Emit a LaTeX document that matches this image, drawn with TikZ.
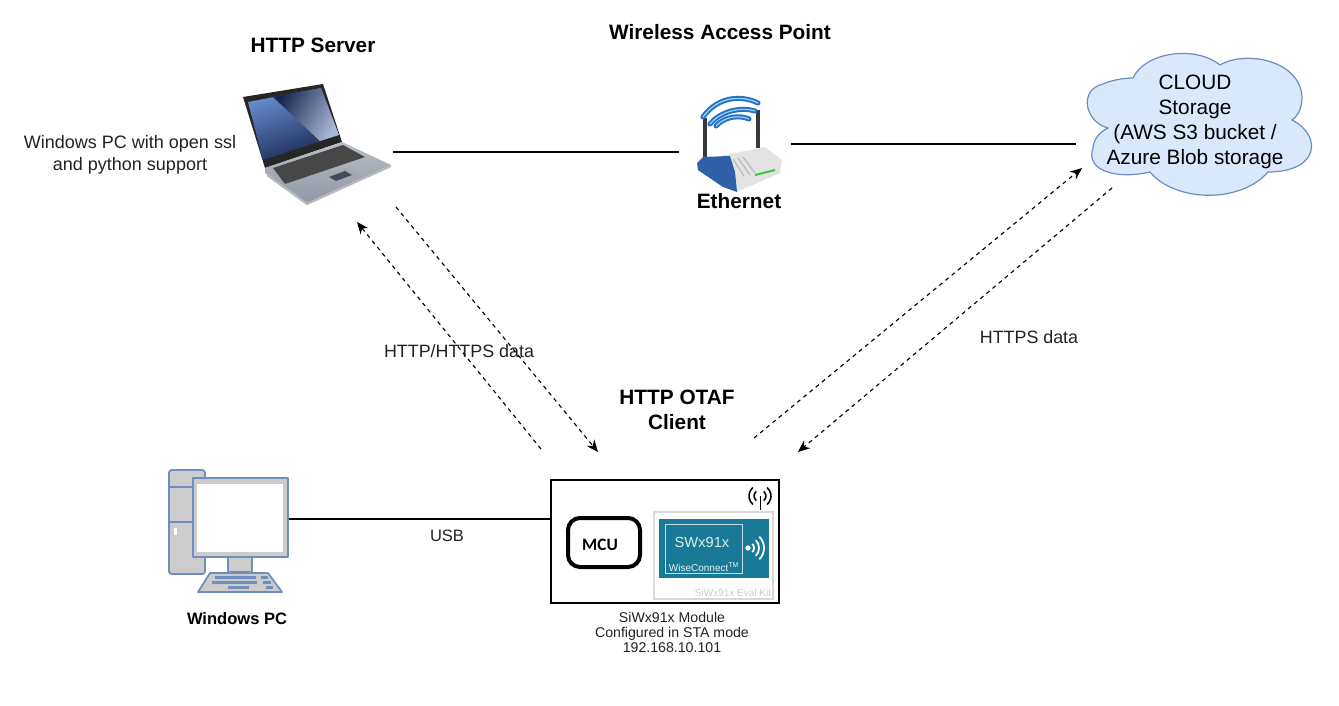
\documentclass[tikz,border=0pt]{standalone}
\usepackage{fontspec}
\setmainfont{Liberation Sans}
\newfontfamily\mcufont{Carlito}
\usetikzlibrary{arrows.meta,positioning,calc}
\definecolor{cloudfill}{HTML}{DAE8FC}
\definecolor{cloudline}{HTML}{6C8EBF}
\definecolor{pcline}{HTML}{6F8DBE}
\definecolor{pcgrey}{HTML}{CCCCCC}
\definecolor{teal}{HTML}{187A96}
\definecolor{wifiblue}{HTML}{2B6FC4}
\definecolor{labelgrey}{HTML}{222222}
\definecolor{screenlow}{HTML}{6A8FD4}
\definecolor{screendark}{HTML}{17264F}
\definecolor{screenhigh}{HTML}{A9B7D6}
\definecolor{routerblue}{HTML}{2F5FA8}
\definecolor{basehigh}{HTML}{B9BEC6}
\definecolor{baselow}{HTML}{8F98A6}
\tikzset{
  lbl/.style={font=\fontsize{13.4}{16}\selectfont, text=labelgrey, align=center, inner sep=0pt},
  headlbl/.style={font=\fontsize{15.6}{18.75}\selectfont\bfseries, text=black, align=center, inner sep=0pt},
  smalllbl/.style={font=\fontsize{10.6}{11.2}\selectfont, text=labelgrey, align=center, inner sep=0pt},
  link/.style={draw=black, line width=0.9pt},
  usblink/.style={draw=black, line width=1.9pt},
  datalink/.style={draw=black, line width=0.85pt, dash pattern=on 3pt off 3pt, -{Stealth[length=9pt,width=7.5pt]}},
  pcpart/.style={draw=pcline, fill=pcgrey, line width=1.3pt, line join=round},
  wifiarc/.style={draw=wifiblue, line width=3.8pt, line cap=round},
}
\begin{document}
\begin{tikzpicture}[x=0.75pt, y=-0.75pt]
  \useasboundingbox (0,0) rectangle (1339,706);
  \fill[white] (0,0) rectangle (1339,706);

  % laptop
  \fill[black!85] (243,97) -- (323,84) -- (342,142) -- (265,168) -- cycle;
  \shade[left color=screenlow, right color=screendark, shading angle=20] (248,102) -- (321,88) -- (339,135) -- (263,160) -- cycle;
  \shade[left color=screendark, right color=screenhigh, shading angle=60] (273,97) -- (321,88) -- (339,135) -- (320,141) -- cycle;
  \shade[top color=basehigh, bottom color=baselow] (265,168) -- (342,142) -- (391,165) -- (307,203) -- (265,173) -- cycle;
  \fill[black!72] (273,168) -- (343,145) -- (365,157) -- (285,184) -- cycle;
  \fill[gray!70] (323,177) -- (345,168) -- (358,175) -- (335,183) -- cycle;
  \fill[screendark!60!gray] (329,177) -- (345,171) -- (352,175) -- (336,181) -- cycle;
  \draw[gray!55, line width=1.6pt] (267,175) -- (307,204) -- (391,166);

  % access point
  \draw[black!78, line width=2.6pt] (705,118) -- (705,157);
  \draw[black!78, line width=2.6pt] (758,110) -- (758,148);
  \foreach \xa/\ya/\xb/\yb/\xc/\yc/\xd/\yd in {703/117/718/96/742/95/758/103, 710/124/722/110/742/107/755/111, 716/126/725/116/740/115/749/119}{
    \draw[wifiarc] (\xa,\ya) .. controls (\xb,\yb) and (\xc,\yc) .. (\xd,\yd);
    \draw[cyan!45, line width=0.9pt] (\xa,\ya) .. controls (\xb,\yb) and (\xc,\yc) .. (\xd,\yd);
  }
  \fill[gray!22] (720,156) -- (765,147) -- (782,160) -- (780,173) -- (737,192) -- cycle;
  \foreach \xa/\ya/\xb/\yb in {733/159/744/176, 738/158/750/175, 743/157/755/173}{
    \draw[gray!60, line width=0.7pt] (\xa,\ya) -- (\xb,\yb);
  }
  \fill[routerblue] (697,163) -- (703,157) -- (730,156) -- (735,172) -- (737,192) -- (723,187) -- (698,170) -- cycle;
  \fill[green!60!gray] (755,174) -- (775,169) -- (775,171) -- (755,176) -- cycle;

  % tower and monitor
  \draw[pcpart, rounded corners=2pt] (169,470) rectangle (205,574);
  \draw[pcpart] (169,487) -- (205,487);
  \draw[pcpart] (169,522) -- (205,522);
  \fill[white] (174,528) rectangle (177,535);
  \draw[pcpart] (228,557) rectangle (252,572);
  \draw[pcpart] (193,478) rectangle (288,557);
  \fill[white] (197,484) rectangle (283,552);
  \draw[pcpart] (210,573) -- (268,573) -- (282,592) -- (198,592) -- cycle;
  \foreach \xa/\ya/\xb in {215/576/256, 261/576/268, 212/581/257, 263/581/271, 228/586/249, 266/586/273}{
    \fill[pcline] (\xa,\ya) rectangle (\xb,\ya+3);
  }

  % module
  \draw[black, line width=1.9pt] (551,480) rectangle (779,603);
  \draw[black, line width=3pt, rounded corners=9pt] (568,518) rectangle (640,567);
  \node[font=\mcufont\bfseries\fontsize{13}{15}\selectfont, inner sep=0pt] (mcu) at (600,545) {MCU};
  \draw[black!15, line width=0.8pt] (654,512) rectangle (773,599);
  \fill[teal] (659,519) rectangle (769,578);
  \draw[white!75!teal, line width=0.7pt] (665,524) rectangle (742,573);
  \node[text=white!85!teal, font=\fontsize{11}{14}\selectfont, inner sep=0pt] (swx) at (702,542) {SWx91x};
  \node[text=white!90!teal, font=\fontsize{7.5}{10}\selectfont, inner sep=0pt] (wise) at (704,567) {WiseConnect\textsuperscript{TM}};
  \node[text=black!20, font=\fontsize{7.5}{9}\selectfont, inner sep=0pt] (kit) at (733,593) {SiWx91x Eval Kit};
  \fill[white] (748,548) circle (2pt);
  \foreach \r in {6,11,16}{
    \draw[white, line width=1.3pt] ($(748,548)+(-45:\r*0.75pt)$) arc[start angle=-45, end angle=45, radius=\r*0.75pt];
  }
  \draw[black, line width=0.7pt] (760,496) -- (760,510);
  \foreach \r in {6,11}{
    \draw[black, line width=1.2pt] ($(760,496)+(-50:\r*0.75pt)$) arc[start angle=-50, end angle=50, radius=\r*0.75pt];
    \draw[black, line width=1.2pt] ($(760,496)+(130:\r*0.75pt)$) arc[start angle=130, end angle=230, radius=\r*0.75pt];
  }

  % cloud
  \draw[fill=cloudfill, draw=cloudline, line width=0.9pt] (1108,128)
    .. controls (1085,122) and (1078,90) .. (1103,84)
    .. controls (1112,80) and (1124,78) .. (1133,78)
    .. controls (1145,52) and (1195,45) .. (1220,65)
    .. controls (1245,50) and (1300,60) .. (1302,97)
    .. controls (1302,108) and (1298,116) .. (1292,120)
    .. controls (1322,135) and (1320,172) .. (1268,172)
    .. controls (1240,204) and (1175,202) .. (1150,172)
    .. controls (1115,180) and (1085,170) .. (1093,148)
    .. controls (1094,138) and (1100,132) .. (1108,128) -- cycle;
  \node[lbl, font=\fontsize{15.6}{18.75}\selectfont, text=black] (cloud) at (1195,122) {CLOUD\\Storage\\(AWS S3 bucket /\\Azure Blob storage};

  % labels
  \node[headlbl] (server) at (313,45) {HTTP Server};
  \node[headlbl] (wap) at (720,32) {Wireless Access Point};
  \node[headlbl] (eth) at (739,201) {Ethernet};
  \node[headlbl] (otaf) at (677,409.5) {HTTP OTAF\\Client};
  \node[headlbl, font=\fontsize{12.4}{14}\selectfont\bfseries] (winpc) at (237,619) {Windows PC};
  \node[lbl, font=\fontsize{13.5}{16.5}\selectfont] (srvinfo) at (130,155) {Windows PC with open ssl\\and python support};
  \node[lbl] (httplbl) at (459,351) {HTTP/HTTPS data};
  \node[lbl] (httpslbl) at (1029,337) {HTTPS data};
  \node[lbl, font=\fontsize{12.4}{14}\selectfont] (usblbl) at (447,536) {USB};
  \node[smalllbl] (modlbl) at (672,632.5) {SiWx91x Module\\Configured in STA mode\\192.168.10.101};

  % connectors
  \coordinate (srvE) at (393,152);
  \coordinate (apW) at (679,152);
  \coordinate (apE) at (791,144);
  \coordinate (cloudW) at (1076,144);
  \coordinate (pcE) at (289,519);
  \coordinate (modW) at (551,519);
  \coordinate (srvOut) at (396,207);
  \coordinate (modIn) at (598,452);
  \coordinate (modOut) at (541,449);
  \coordinate (srvIn) at (357,222);
  \coordinate (modUp) at (754,438);
  \coordinate (cloudIn) at (1082,168);
  \coordinate (cloudOut) at (1112,188);
  \coordinate (modIn2) at (798,452);
  \draw[link] (srvE) -- (apW);
  \draw[link] (apE) -- (cloudW);
  \draw[usblink] (pcE) -- (modW);
  \draw[datalink] (srvOut) -- (modIn);
  \draw[datalink] (modOut) -- (srvIn);
  \draw[datalink] (modUp) -- (cloudIn);
  \draw[datalink] (cloudOut) -- (modIn2);
\end{tikzpicture}
\end{document}
